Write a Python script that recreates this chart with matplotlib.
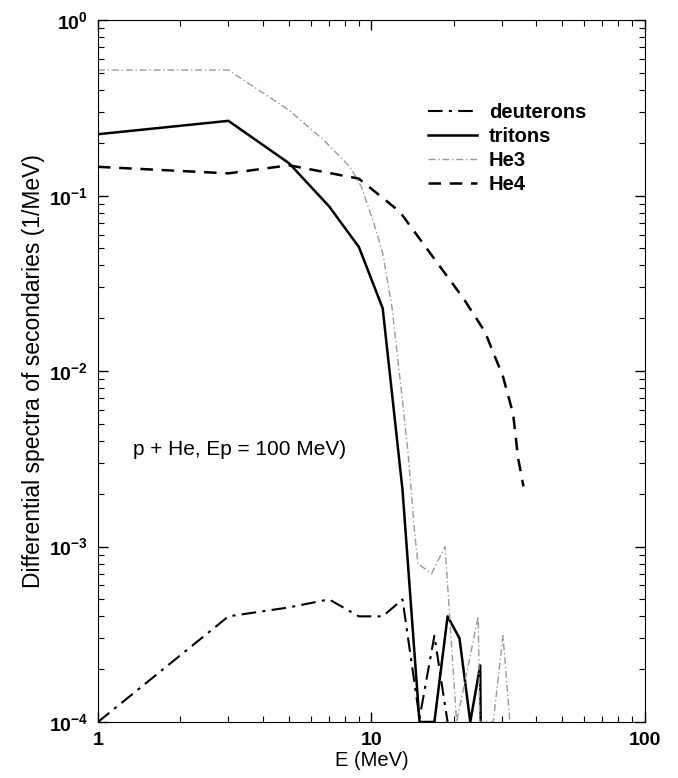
"""
p + He 反応の二次粒子スペクトル
"""
import math
import matplotlib
matplotlib.use("Agg")
import matplotlib.pyplot as plt
from matplotlib.ticker import FixedLocator, LogLocator, NullFormatter, FuncFormatter

plt.rcParams['font.family'] = ['Liberation Sans', 'DejaVu Sans']
plt.rcParams['mathtext.fontset'] = 'custom'
plt.rcParams['mathtext.rm'] = 'Liberation Sans'
plt.rcParams['mathtext.bf'] = 'Liberation Sans:bold'

# deuterons
e_d = [1, 3, 5, 7, 9, 11, 13, 15, 17, 19]
d_vals = [1e-4, 4.0e-4, 4.5e-4, 5.0e-4, 4.0e-4, 4.0e-4, 5.0e-4, 1.05e-4, 3.1e-4, 1.0e-4]

# tritons
e_t = [1, 3, 5, 7, 9, 11, 13, 15, 17, 19, 21, 23, 25, 25.1]
t_vals = [0.224, 0.267, 0.153, 0.087, 0.051, 0.0228, 2.1e-3, 1e-4, 1e-4,
          4.0e-4, 3.0e-4, 1e-4, 2.1e-4, 1e-4]

# He3
e_he3 = [1, 3, 5, 6.7, 8.35, 9.2, 10.2, 11, 11.9, 12.9, 13.6, 14.4, 14.8,
         16.6, 18.6, 20.5, 24.6, 24.9, 27.9, 30.3, 32.1]
he3_vals = [0.52, 0.52, 0.307, 0.207, 0.146, 0.112, 0.070, 0.047, 0.023,
            7.5e-3, 3.5e-3, 1.2e-3, 8.0e-4, 7.0e-4, 1.0e-3, 1e-4, 4.0e-4,
            1e-4, 1e-4, 3.1e-4, 1e-4]

# He4
e_he4 = [1, 3, 5, 9, 12.7, 17.5, 21.7, 26, 30.3, 33, 34.4, 36]
he4_vals = [0.146, 0.134, 0.149, 0.125, 0.081, 0.041, 0.026, 0.0168,
            9.3e-3, 5.7e-3, 3.2e-3, 2.2e-3]

fig = plt.figure(figsize=(6.78, 7.78), dpi=100)
ax = fig.add_axes([0.1445, 0.072, 0.8065, 0.902])

ax.plot(e_d, d_vals, color='black', lw=1.5, dashes=(7, 3, 1.5, 3), label='deuterons')
ax.plot(e_t, t_vals, color='black', lw=1.8, label='tritons')
ax.plot(e_he3, he3_vals, color='#9a9a9a', lw=1.0, dashes=(5, 2, 1, 2), label='He3')
ax.plot(e_he4, he4_vals, color='black', lw=1.8, dashes=(5, 3.5), label='He4')

ax.set_xscale('log')
ax.set_yscale('log')
ax.set_xlim(1, 100)
ax.set_ylim(1e-4, 1)

ax.xaxis.set_major_locator(FixedLocator([1, 10, 100]))
ax.xaxis.set_minor_locator(LogLocator(base=10, subs=range(2, 10)))
ax.xaxis.set_minor_formatter(NullFormatter())
ax.xaxis.set_major_formatter(FuncFormatter(lambda v, p: f"{v:g}"))
ax.yaxis.set_major_locator(FixedLocator([1e-4, 1e-3, 1e-2, 1e-1, 1]))
ax.yaxis.set_minor_locator(LogLocator(base=10, subs=range(2, 10)))
ax.yaxis.set_minor_formatter(NullFormatter())
ax.yaxis.set_major_formatter(
    FuncFormatter(lambda v, p: r'$\mathbf{10^{%d}}$' % round(math.log10(v))))

ax.tick_params(which='both', direction='in', top=True, right=True)
ax.tick_params(which='major', length=7, width=1, labelsize=14, pad=7)
ax.tick_params(which='minor', length=4, width=0.8)
for lab in ax.get_xticklabels():
    lab.set_fontweight('bold')

ax.set_xlabel('E (MeV)', fontsize=14.5, labelpad=2)
ax.set_ylabel('Differential spectra of secondaries (1/MeV)', fontsize=16.5, labelpad=3)

ax.text(0.064, 0.380, 'p + He, Ep = 100 MeV)', transform=ax.transAxes, fontsize=15)

leg = ax.legend(loc='upper left', bbox_to_anchor=(0.603, 0.882), frameon=False,
                prop={'weight': 'bold', 'size': 14.5}, handlelength=2.45,
                handletextpad=0.6, labelspacing=0.25, borderaxespad=0,
                borderpad=0)

fig.savefig('out.png', dpi=100)
